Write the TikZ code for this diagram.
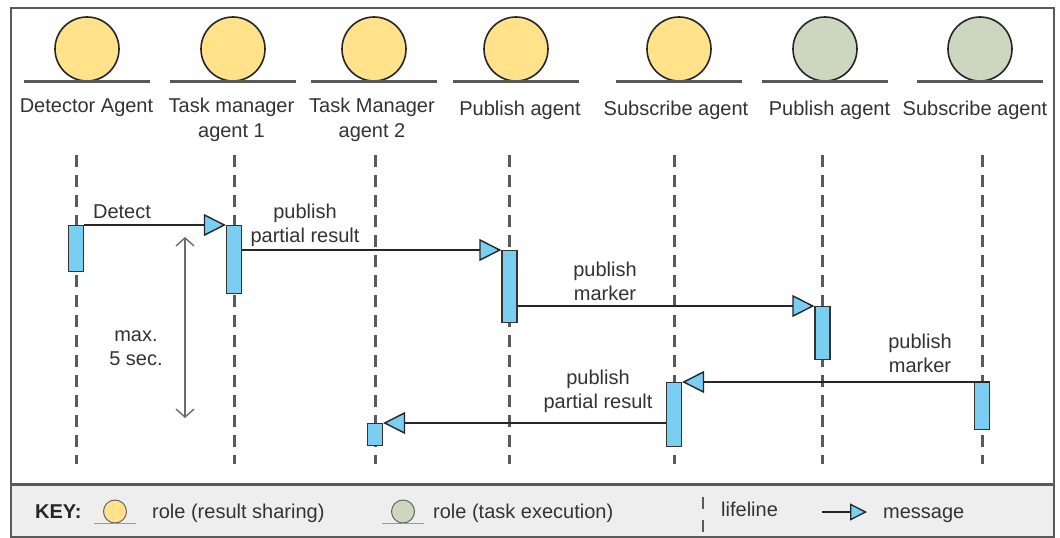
\documentclass[tikz,border=0pt]{standalone}
\usepackage{fontspec}
\setmainfont{Liberation Sans}
\usetikzlibrary{arrows.meta,calc}

\definecolor{roleyellow}{HTML}{FFE28A}
\definecolor{rolegreen}{HTML}{CDD6BE}
\definecolor{barblue}{HTML}{7ACEF2}
\definecolor{linegray}{HTML}{5A5A5A}
\definecolor{textgray}{HTML}{333333}
\definecolor{keybg}{HTML}{EEEEEE}

\begin{document}
\begin{tikzpicture}[x=1pt,y=-1pt,
  lbl/.style={font=\fontsize{20}{25}\selectfont, text=textgray, align=center, inner sep=0pt, anchor=base},
  mlbl/.style={lbl, font=\fontsize{20}{24}\selectfont},
  role/.style={circle, draw=black!85, line width=1.6pt, minimum size=64pt, inner sep=0pt},
  ground/.style={draw=linegray, line width=3pt},
  lifeline/.style={draw=linegray, line width=3pt, dash pattern=on 12pt off 8pt},
  actbar/.style={draw=black!80, fill=barblue, line width=1.4pt, minimum width=15pt, inner sep=0pt, anchor=north},
  msg/.style={draw=black!85, line width=1.4pt, -{Triangle[length=22pt,width=22pt,fill=barblue]}},
  span/.style={draw=gray!85!black, line width=1.4pt, {Straight Barb[length=8pt,width=18pt]}-{Straight Barb[length=8pt,width=18pt]}},
  keytext/.style={font=\fontsize{20}{24}\selectfont, text=textgray, inner sep=0pt, anchor=base west},
]
\useasboundingbox (0,0) rectangle (1060,538);

% frame and key panel
\fill[white] (0,0) rectangle (1060,538);
\fill[keybg] (11,484) rectangle (1054,537);
\draw[linegray, line width=2.5pt] (11,8) rectangle (1054,537);
\draw[linegray, line width=3pt] (11,484) -- (1054,484);

% roles
\foreach \n/\x/\c in {det/87/roleyellow, tma/233/roleyellow, tmb/374/roleyellow,
                       pub/516/roleyellow, sub/679/roleyellow,
                       pubx/825/rolegreen, subx/980/rolegreen}{
  \node[role, fill=\c] (h\n) at (\x,49) {};
  \draw[ground] ($(h\n.south)+(-63,0)$) -- ($(h\n.south)+(63,0)$);
}

% role names (multi-line labels sit on the baseline of their last line)
\node[lbl] (tdet)  at (86.5,112) {Detector Agent};
\node[lbl] (ttma)  at (231.5,137) {Task manager\\agent 1};
\node[lbl] (ttmb)  at (372,137) {Task Manager\\agent 2};
\node[lbl] (tpub)  at (520,115) {Publish agent};
\node[lbl] (tsub)  at (676,115) {Subscribe agent};
\node[lbl] (tpubx) at (829.5,115) {Publish agent};
\node[lbl] (tsubx) at (975,115) {Subscribe agent};

% lifelines
\foreach \n/\x in {det/76, tma/234, tmb/375, pub/509.5, sub/674, pubx/822.5, subx/982}{
  \coordinate (l\n-top) at (\x,155);
  \coordinate (l\n-bot) at (\x,464);
  \draw[lifeline] (l\n-top) -- (l\n-bot);
}

% activation bars
\node[actbar, minimum height=46pt] (bdet)  at (76,225) {};
\node[actbar, minimum height=68pt] (btma)  at (234,225) {};
\node[actbar, minimum height=72pt] (bpub)  at (509.5,250) {};
\node[actbar, minimum height=53pt] (bpubx) at (822.5,306) {};
\node[actbar, minimum height=47pt] (bsubx) at (982,382) {};
\node[actbar, minimum height=64pt] (bsub)  at (674,382) {};
\node[actbar, minimum height=22pt] (btmb)  at (375,423) {};

% messages
\draw[msg] (bdet.north east) -- (btma.north west);
\draw[msg] (btma.east |- bpub.north) -- (bpub.north west);
\draw[msg] (bpub.east |- bpubx.north) -- (bpubx.north west);
\draw[msg] (bsubx.north east) -- (bsub.north east);
\draw[msg] (bsub.west |- btmb.north) -- (btmb.north east);

% message labels
\node[mlbl] (m1) at (122,218) {Detect};
\node[mlbl] (m2) at (305,242) {publish\\partial result};
\node[mlbl] (m3) at (605,300) {publish\\marker};
\node[mlbl] (m4) at (920,372) {publish\\marker};
\node[mlbl] (m5) at (598,408) {publish\\partial result};

% time bound
\coordinate (span-top) at (185,237);
\coordinate (span-bot) at (185,418);
\draw[span] (span-top) -- (span-bot);
\node[mlbl] (tbound) at (136,365) {max.\\5 sec.};

% key
\node[keytext, font=\fontsize{20}{24}\selectfont\bfseries, text=black!85] (key) at (35,518) {KEY:};
\node[circle, draw=black!60, line width=1pt, fill=roleyellow, minimum size=23pt, inner sep=0pt] (kyel) at (115,511.5) {};
\draw[draw=gray!80, line width=1.4pt] ($(kyel.south)+(-21,0)$) -- ($(kyel.south)+(21,0)$);
\node[keytext] (kyeltxt) at (152,518) {role (result sharing)};
\node[circle, draw=black!60, line width=1pt, fill=rolegreen, minimum size=23pt, inner sep=0pt] (kgrn) at (403,511.5) {};
\draw[draw=gray!80, line width=1.4pt] ($(kgrn.south)+(-21,0)$) -- ($(kgrn.south)+(21,0)$);
\node[keytext] (kgrntxt) at (433,518) {role (task execution)};
\coordinate (klife-top) at (703,497);
\coordinate (klife-bot) at (703,533);
\draw[lifeline, line width=2pt, dash pattern=on 12pt off 11pt] (klife-top) -- (klife-bot);
\node[keytext] (klifetxt) at (721,516) {lifeline};
\coordinate (kmsg-a) at (822,512);
\coordinate (kmsg-b) at (867,512);
\draw[draw=black!85, line width=1.3pt, -{Triangle[length=17pt,width=17pt,fill=barblue]}] (kmsg-a) -- (kmsg-b);
\node[keytext] (kmsgtxt) at (883,518) {message};
\end{tikzpicture}
\end{document}
